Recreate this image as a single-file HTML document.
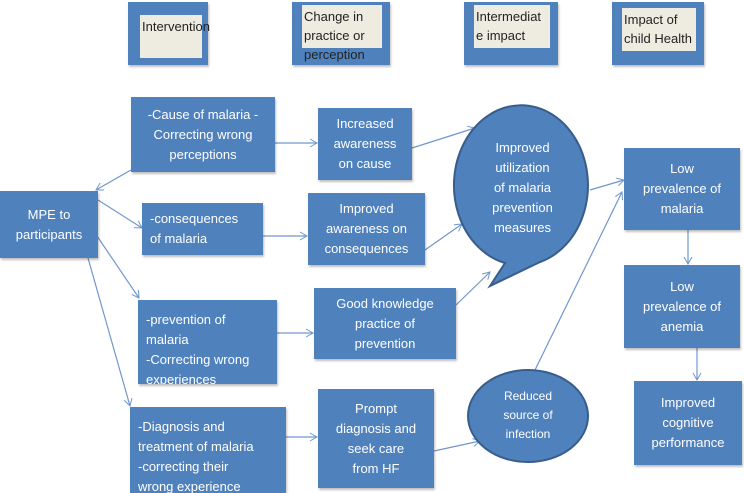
<!DOCTYPE html>
<html><head><meta charset="utf-8"><style>
body{margin:0;width:744px;height:493px;background:#fff;position:relative;overflow:hidden;font-family:"Liberation Sans",sans-serif}
.b{position:absolute;box-sizing:border-box;background:#4f81bd;border:2px solid #3a64946;border-color:#385d8a;box-shadow:1px 2px 2px rgba(0,0,0,.25);color:#fff;font-size:13px;line-height:20px;display:flex;align-items:center;justify-content:center;text-align:center;overflow:hidden}
.l{justify-content:flex-start;text-align:left;padding-left:8px}
.in{position:absolute;background:#eeece1;color:#222;font-size:13px;line-height:19px;padding:2px 2px;box-sizing:border-box}
svg{position:absolute;left:0;top:0}
.t{position:absolute;color:#fff;font-size:13px;line-height:20px;text-align:center}
</style></head><body>
<div class="b" style="left:128px;top:2px;width:80px;height:63px"></div>
<div class="in" style="left:140px;top:15px;width:62px;height:43px">Intervention</div>
<div class="b" style="left:292px;top:2px;width:98px;height:63px"></div>
<div class="in" style="left:302px;top:5px;width:80px;height:43px">Change in practice or perception</div>
<div class="b" style="left:464px;top:2px;width:94px;height:63px"></div>
<div class="in" style="left:474px;top:5px;width:76px;height:43px">Intermediat e impact</div>
<div class="b" style="left:612px;top:2px;width:92px;height:63px"></div>
<div class="in" style="left:622px;top:8px;width:74px;height:43px">Impact of child Health</div>

<svg width="744" height="493">
<defs><marker id="a" markerWidth="10" markerHeight="10" refX="8" refY="5" orient="auto" markerUnits="userSpaceOnUse"><path d="M1,1 L8,5 L1,9" fill="none" stroke="#6f97cf" stroke-width="1"/></marker></defs>
<g stroke="#6f97cf" stroke-width="1.2" fill="none" marker-end="url(#a)">
<line x1="275" y1="143" x2="317" y2="143"/>
<line x1="131" y1="170" x2="96" y2="190"/>
<line x1="98" y1="200" x2="142" y2="228" marker-end=""/>
<line x1="97" y1="236" x2="139" y2="298" marker-end=""/>
<line x1="88" y1="258" x2="130" y2="406" marker-end=""/>
<line x1="263" y1="236" x2="307" y2="236"/>
<line x1="412" y1="148" x2="475" y2="128"/>
<line x1="425" y1="250" x2="462" y2="224"/>
<line x1="456" y1="305" x2="490" y2="272" marker-end=""/>
<line x1="277" y1="333" x2="313" y2="333"/>
<line x1="286" y1="437" x2="317" y2="437"/>
<line x1="434" y1="451" x2="480" y2="441"/>
<line x1="535" y1="370" x2="622" y2="192"/>
<line x1="590" y1="190" x2="624" y2="180" marker-end=""/>
<line x1="688" y1="230" x2="688" y2="264"/>
<line x1="697" y1="348" x2="697" y2="380"/>
</g>
<path d="M505,263 A67,80 0 1 1 540,262 L490,286 Z" fill="#4f81bd" stroke="#385d8a" stroke-width="2"/>
<ellipse cx="528" cy="416" rx="60" ry="46" fill="#4f81bd" stroke="#385d8a" stroke-width="2"/>
</svg>
<div class="t" style="left:455px;top:138px;width:135px">Improved<br>utilization<br>of malaria<br>prevention<br>measures</div>
<div class="t" style="left:468px;top:387px;width:120px;font-size:12px;line-height:19px">Reduced<br>source of<br>infection</div>

<div class="b" style="left:131px;top:97px;width:144px;height:75px">-Cause of malaria -<br>Correcting wrong<br>perceptions</div>
<div class="b" style="left:318px;top:108px;width:94px;height:72px">Increased<br>awareness<br>on cause</div>
<div class="b" style="left:624px;top:148px;width:116px;height:82px">Low<br>prevalence of<br>malaria</div>
<div class="b" style="left:0px;top:191px;width:98px;height:67px">MPE to<br>participants</div>
<div class="b l" style="left:142px;top:203px;width:121px;height:52px">-consequences<br>of malaria</div>
<div class="b" style="left:308px;top:193px;width:117px;height:72px;align-items:flex-start;padding-top:6px">Improved<br>awareness on<br>consequences</div>
<div class="b" style="left:314px;top:288px;width:142px;height:71px;align-items:flex-start;padding-top:6px">Good knowledge<br>practice of<br>prevention</div>
<div class="b l" style="left:138px;top:300px;width:139px;height:84px;align-items:flex-start;padding-top:10px">-prevention of<br>malaria<br>-Correcting wrong<br>experiences</div>
<div class="b" style="left:624px;top:265px;width:116px;height:83px">Low<br>prevalence of<br>anemia</div>
<div class="b" style="left:634px;top:381px;width:108px;height:84px">Improved<br>cognitive<br>performance</div>
<div class="b l" style="left:130px;top:407px;width:156px;height:86px;align-items:flex-start;padding-top:10px">-Diagnosis and<br>treatment of malaria<br>-correcting their<br>wrong experience</div>
<div class="b" style="left:318px;top:389px;width:116px;height:99px">Prompt<br>diagnosis and<br>seek care<br>from HF</div>
</body></html>
